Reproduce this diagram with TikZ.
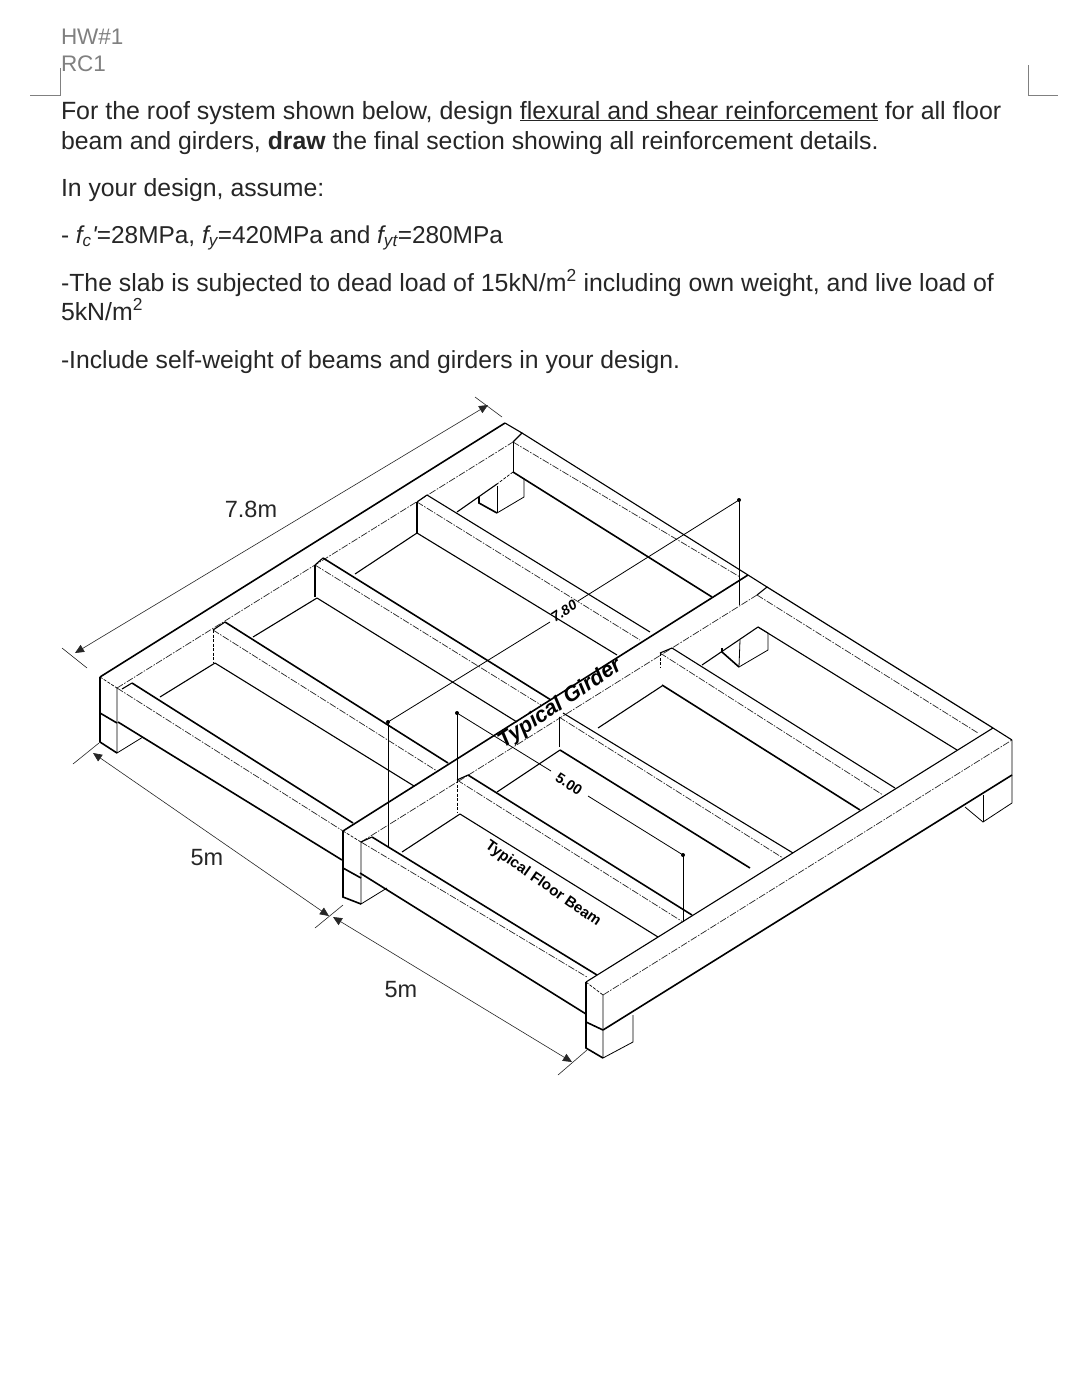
\documentclass[tikz,border=0pt]{standalone}
\usepackage{fontspec}
\setmainfont{Liberation Sans}
\usetikzlibrary{arrows.meta}
\definecolor{ink}{HTML}{262626}
\definecolor{pale}{HTML}{808080}
\tikzset{
  hv/.style={black,line width=1.6pt},
  md/.style={black,line width=1.1pt},
  fine/.style={black,line width=0.8pt},
  dd/.style={black!85,line width=0.7pt,dash pattern=on 7pt off 1.5pt on 1.5pt off 1.5pt},
  sd/.style={black,line width=0.7pt,dash pattern=on 3pt off 1.5pt},
  dm/.style={black!85,line width=0.6pt},
  dmarrow/.style={dm,{Triangle[length=9pt,width=8pt]}-{Triangle[length=9pt,width=8pt]}},
  txt/.style={anchor=base west,inner sep=0pt,outer sep=0pt,text=ink,font=\fontsize{25}{30}\selectfont},
  lab/.style={inner sep=0pt,text=ink,font=\fontsize{23.5}{28}\selectfont},
  crop/.style={pale,line width=0.7pt},
  dot/.style={circle,fill=black,inner sep=0pt,minimum size=4pt},
}
\begin{document}
\begin{tikzpicture}[x=1pt,y=-1pt]
\useasboundingbox (0,0) rectangle (1080,1400);
\fill[white] (0,0) rectangle (1080,1400);
% header
\node[txt,text=pale,font=\fontsize{22.5}{28}\selectfont] (hw) at (61,44) {HW\#1};
\node[txt,text=pale,font=\fontsize{22.5}{28}\selectfont] (rc) at (61,71) {RC1};
\draw[crop] (60.7,68) -- (60.7,95) -- (30,95);
\draw[crop] (1028,65) -- (1028,95) -- (1058,95);
% text
\node[txt,font=\fontsize{24.95}{30}\selectfont] (t1) at (61,119) {For the roof system shown below, design \underline{flexural and shear reinforcement} for all floor};
\node[txt,font=\fontsize{24.8}{30}\selectfont] (t2) at (61,149) {beam and girders, \textbf{draw} the final section showing all reinforcement details.};
\node[txt,font=\fontsize{24.8}{30}\selectfont] (t3) at (61,196) {In your design, assume:};
\node[txt,font=\fontsize{24.4}{30}\selectfont] (t4) at (61,243) {- {\itshape f\textsubscript{c}\kern0.5pt\textquotesingle}=28MPa, {\itshape f\textsubscript{y}}=420MPa and {\itshape f\textsubscript{yt}}=280MPa};
\node[txt,font=\fontsize{24.85}{30}\selectfont] (t5) at (61,291) {-The slab is subjected to dead load of 15kN/m\textsuperscript{2} including own weight, and live load of};
\node[txt,font=\fontsize{24.85}{30}\selectfont] (t6) at (61,320) {5kN/m\textsuperscript{2}};
\node[txt,font=\fontsize{24.7}{30}\selectfont] (t7) at (61,368) {-Include self-weight of beams and girders in your design.};
% girder top edges
\draw[hv] (100,677) -- (505,423);
\draw[hv] (343,831) -- (748,575);
\draw[md] (586,982) -- (993,728);
\draw[hv] (603,1030) -- (1012,775);
% girder dash-dot inner edges
\draw[dd] (117,688) -- (513,442);
\draw[dd] (361,842) -- (757,595);
\draw[dd] (603,995) -- (1012,740);
% end stubs
\draw[sd] (100,677) -- (117,688);
\draw[sd] (343,831) -- (361,842);
\draw[sd] (586,982) -- (603,995);
\draw[md] (505,423) -- (522,433) -- (513,442);
\draw[md] (748,575) -- (767,587) -- (757,595);
\draw[md] (993,728) -- (1012,740);
% left bay beams
\draw[hv] (132,683) -- (353,823);  \draw[md] (132,683) -- (122,689);
\draw[dd] (117,688) -- (343,831);
\draw[hv] (118,722) -- (342,860);
\draw[hv] (225,622) -- (448,763);  \draw[md] (225,622) -- (213,630);
\draw[dd] (213,630) -- (437,771);
\draw[sd] (213,630) -- (213,662);
\draw[md] (215,663) -- (414,786);
\draw[md] (215,663) -- (160,697);
\draw[hv] (323,558) -- (551,700); \draw[md] (323,558) -- (315,565);
\draw[dd] (315,565) -- (541,705);
\draw[md] (315,565) -- (315,597);
\draw[md] (317,598) -- (517,722);
\draw[md] (317,598) -- (253,637);
\draw[md] (427,495) -- (650,632); \draw[md] (427,495) -- (417,502);
\draw[dd] (417,502) -- (640,640);
\draw[md] (417,502) -- (417,533);
\draw[md] (417,533) -- (617,655);
\draw[md] (417,533) -- (355,574);
\draw[md] (522,433) -- (748,575);
\draw[dd] (513,442) -- (740,577);
\draw[fine] (513,442) -- (513,472);
\draw[hv] (513,472) -- (712,597);
\draw[sd] (513,472) -- (497,484);
\draw[md] (497,484) -- (457,512);
% right bay beams
\draw[hv] (372,837) -- (597,975); \draw[md] (372,837) -- (361,842);
\draw[dd] (361,842) -- (587,977);
\draw[hv] (360,873) -- (586,1014);
\draw[hv] (468,775) -- (692,915); \draw[md] (468,775) -- (457,780);
\draw[dd] (457,780) -- (683,922);
\draw[sd] (457,780) -- (457,813);
\draw[md] (460,814) -- (658,937);
\draw[md] (460,814) -- (402,852);
\draw[md] (563,713) -- (793,853);
\draw[dd] (559,717) -- (783,858);
\draw[fine] (559,717) -- (559,747);
\draw[hv] (560,750) -- (750,868);
\draw[md] (560,750) -- (497,792);
\draw[md] (672,648) -- (895,788); \draw[md] (672,648) -- (660,653);
\draw[dd] (660,653) -- (883,795);
\draw[sd] (660,653) -- (660,668);
\draw[hv] (662,685) -- (860,810);
\draw[md] (662,686) -- (598,728);
\draw[hv,line width=1.2pt] (767,587) -- (993,728);
\draw[dd] (757,595) -- (978,733);
\draw[md] (758,627) -- (957,750);
\draw[md] (758,627) -- (702,665);
% corner posts
\draw[hv] (100,677) -- (100,742) -- (117,753);
\draw[fine] (117,688) -- (117,753) -- (143,737);
\draw[hv] (100,713) -- (117,723);
\draw[hv] (343,831) -- (343,897) -- (361,904);
\draw[fine] (361,842) -- (361,904) -- (387,888);
\draw[hv] (343,868) -- (361,878);
\draw[hv] (586,982) -- (586,1048) -- (603,1058);
\draw[fine] (603,995) -- (603,1058) -- (633,1042) -- (633,1015);
\draw[hv] (586,1022) -- (603,1030);
\draw[fine] (1012,740) -- (1012,803) -- (983,822) -- (965,807);
\draw[fine] (983,795) -- (983,822);
% columns seen through the openings
\draw[fine] (524,478) -- (524,497) -- (497,513);
\draw[hv] (497,513) -- (479,503) -- (479,497);
\draw[fine] (497,486) -- (497,513);
\draw[fine] (758,627) -- (768,633) -- (768,650) -- (739,667);
\draw[hv] (739,667) -- (722,652) -- (722,648);
\draw[fine] (740,640) -- (739,667);
% internal dimensions
\draw[fine] (739,500) -- (739,605);
\draw[fine] (739,500) -- (578,601);
\draw[fine] (550,622) -- (388,722);
\draw[fine] (388,722) -- (388,847);
\node[dot] (d1) at (739,500) {};
\node[dot] (d2) at (388,722) {};
\draw[fine] (457,713) -- (457,780);
\draw[fine] (457,713) -- (551,771);
\draw[fine] (588,796) -- (683,855);
\draw[fine] (683,855) -- (683,922);
\node[dot] (d3) at (457,713) {};
\node[dot] (d4) at (683,855) {};
\node[rotate=33,inner sep=0pt,font=\itshape\bfseries\fontsize{14}{16}\selectfont] (n780) at (564,611) {7.80};
\node[rotate=-33,inner sep=0pt,font=\bfseries\fontsize{14.5}{16}\selectfont] (n500) at (569,784) {5.00};
\node[rotate=34,inner sep=0pt,font=\itshape\bfseries\fontsize{21.5}{24}\selectfont] (ng) at (560,704) {Typical Girder};
\node[rotate=-35,inner sep=0pt,font=\bfseries\fontsize{15}{18}\selectfont] (nb) at (543,884) {Typical Floor Beam};
% outer dimensions
\coordinate (a1) at (75,653); \coordinate (a2) at (488,405);
\draw[dmarrow] (a1) -- (a2);
\draw[dm] (62,648) -- (87,668);
\draw[dm] (475,397) -- (502,417);
\coordinate (b1) at (93,753); \coordinate (b2) at (329,916);
\coordinate (b3) at (333,917); \coordinate (b4) at (572,1062);
\draw[dmarrow] (b1) -- (b2);
\draw[dmarrow] (b3) -- (b4);
\draw[dm] (73,764) -- (99,743);
\draw[dm] (315,928) -- (343,905);
\draw[dm] (558,1075) -- (587,1050);
\node[lab] (l1) at (251,509) {7.8m};
\node[lab] (l2) at (207,858) {5m};
\node[lab] (l3) at (401,990) {5m};
\end{tikzpicture}
\end{document}
